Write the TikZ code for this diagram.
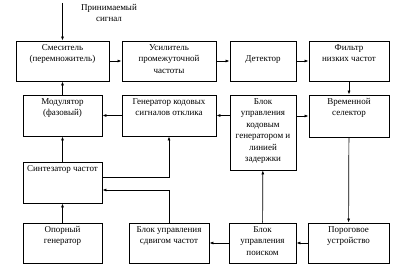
\documentclass[tikz,border=0pt]{standalone}
\usepackage{fontspec}
\setmainfont{Liberation Serif}
\usepackage{tikz}
\usetikzlibrary{arrows.meta,calc}
\tikzset{
  blk/.style={draw, line width=0.8pt, inner sep=0pt},
  blktxt/.style={anchor=north, align=center, inner sep=3.5pt, font=\fontsize{9}{11.5}\selectfont},
  sig/.style={line width=0.7pt, -{Latex[length=4pt, width=3pt]}}
}
\begin{document}
\begin{tikzpicture}[x=1pt, y=-1pt]
\useasboundingbox (0,0) rectangle (407,270);
\node[blk, minimum width=93pt, minimum height=40pt, label={[blktxt]north:Смеситель\\(перемножитель)}] (mix) at (62.5,61) {};
\node[blk, minimum width=94pt, minimum height=40pt, label={[blktxt]north:Усилитель\\промежуточной\\частоты}] (amp) at (169,61) {};
\node[blk, minimum width=66pt, minimum height=40pt, label={[blktxt, yshift=-11.5pt]north:Детектор}] (det) at (263,61) {};
\node[blk, minimum width=80pt, minimum height=40pt, label={[blktxt]north:Фильтр\\низких частот}] (lpf) at (349,61) {};
\node[blk, minimum width=79pt, minimum height=41pt, label={[blktxt]north:Модулятор\\(фазовый)}] (mod) at (62.5,115.5) {};
\node[blk, minimum width=94pt, minimum height=41pt, label={[blktxt]north:Генератор кодовых\\сигналов отклика}] (cgen) at (169,115.5) {};
\node[blk, minimum width=66pt, minimum height=75pt, label={[blktxt]north:Блок\\управления\\кодовым\\генератором и\\линией\\задержки}] (cctl) at (263,132.5) {};
\node[blk, minimum width=80pt, minimum height=42pt, label={[blktxt]north:Временной\\селектор}] (sel) at (349,116) {};
\node[blk, minimum width=79pt, minimum height=41pt, label={[blktxt]north:Синтезатор частот}] (syn) at (62.5,182.5) {};
\node[blk, minimum width=79pt, minimum height=40pt, label={[blktxt]north:Опорный\\генератор}] (osc) at (62.5,243) {};
\node[blk, minimum width=80pt, minimum height=40pt, label={[blktxt]north:Блок управления\\сдвигом частот}] (shft) at (169,243) {};
\node[blk, minimum width=67pt, minimum height=40pt, label={[blktxt]north:Блок\\управления\\поиском}] (srch) at (262.5,243) {};
\node[blk, minimum width=81pt, minimum height=40pt, label={[blktxt]north:Пороговое\\устройство}] (thr) at (348.5,243) {};
\node[align=center, font=\fontsize{9}{11.5}\selectfont] (rx) at (109,13) {Принимаемый\\сигнал};
\coordinate (in) at (62.5,3);
\draw[sig] (in) -- (mix.north);
\draw[sig] (mix) -- (amp);
\draw[sig] (amp) -- (det);
\draw[sig] (det) -- (lpf);
\draw[sig] (lpf) -- (sel);
\draw[sig] (sel) -- (thr);
\draw[sig] (thr) -- (srch);
\draw[sig] (srch) -- (shft);
\draw[sig] (srch) -- (cctl);
\draw[sig] (cctl.east |- sel.west) -- (sel.west);
\draw[sig] (cctl.west |- cgen.east) -- (cgen.east);
\draw[sig] (cgen) -- (mod);
\draw[sig] (mod) -- (mix);
\draw[sig] (syn) -- (mod);
\draw[sig] (osc) -- (syn);
\draw[sig] ([yshift=5.5pt]syn.east) -| (cgen.south);
\draw[sig] (shft.north) |- ([yshift=-7.5pt]syn.east);
\end{tikzpicture}
\end{document}
